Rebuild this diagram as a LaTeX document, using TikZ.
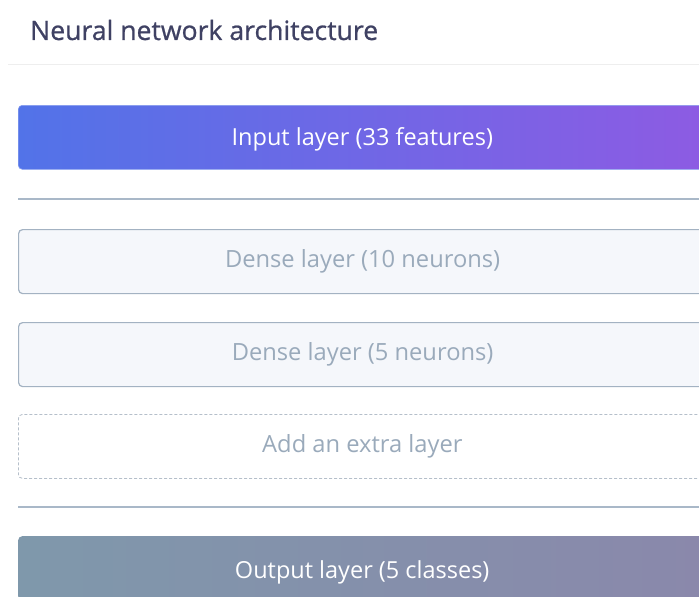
\documentclass[tikz,border=0pt]{standalone}
\usepackage{fontspec}
\setmainfont{Open Sans}
\newfontfamily\headfont[FakeBold=0.8]{Open Sans}
\usetikzlibrary{calc}
\definecolor{titlecol}{HTML}{3F4163}
\definecolor{rulecol}{HTML}{EEEEEE}
\definecolor{sepcol}{HTML}{A9B8C8}
\definecolor{inleft}{HTML}{5273E8}
\definecolor{inright}{HTML}{8D5BE3}
\definecolor{outleft}{HTML}{7F98AB}
\definecolor{outright}{HTML}{8A88AB}
\definecolor{densefill}{HTML}{F5F7FB}
\definecolor{denseedge}{HTML}{A3B2C2}
\definecolor{densetext}{HTML}{9AAABB}
\definecolor{dashedge}{HTML}{B5BFCA}
\tikzset{
  layerbox/.style={rounded corners=4pt, minimum width=688pt, minimum height=64pt, inner sep=0pt, anchor=north west},
  inputbox/.style={layerbox, left color=inleft, right color=inright, draw=inleft!70!white, line width=0.6pt},
  densebox/.style={layerbox, fill=densefill, draw=denseedge, line width=1.2pt},
  extrabox/.style={layerbox, fill=white, draw=dashedge, line width=0.8pt, dash pattern=on 3pt off 2pt},
  outputbox/.style={layerbox, left color=outleft, right color=outright},
  lightlabel/.style={font=\fontsize{23.5}{26}\selectfont, text=white},
  denselabel/.style={font=\fontsize{23.7}{26}\selectfont, text=densetext},
  separator/.style={draw=sepcol, line width=1.6pt}
}
\begin{document}
\begin{tikzpicture}[x=1pt, y=-1pt]
\useasboundingbox (0,0) rectangle (699,597);
\clip (0,0) rectangle (699,597);
% heading
\node[anchor=west, text=titlecol, font=\headfont\fontsize{26.6}{28}\selectfont, inner sep=0pt] (title) at (30,30) {Neural network architecture};
\coordinate (ruleL) at (8,64);
\coordinate (ruleR) at (699,64);
\draw[rulecol, line width=1pt] (ruleL) -- (ruleR);
% layer stack
\node[inputbox] (input) at (18,105) {};
\node[lightlabel] at ($(input.center)+(0,2)$) {Input layer (33 features)};
\coordinate (sep1L) at (18,199);
\coordinate (sep1R) at (699,199);
\draw[separator] (sep1L) -- (sep1R);
\node[densebox] (dense1) at (18,229) {};
\node[denselabel] at (dense1.center) {Dense layer (10 neurons)};
\node[densebox] (dense2) at (18,322) {};
\node[denselabel] at (dense2.center) {Dense layer (5 neurons)};
\node[extrabox] (extra) at (18,414) {};
\node[denselabel] at (extra.center) {Add an extra layer};
\coordinate (sep2L) at (18,507);
\coordinate (sep2R) at (699,507);
\draw[separator] (sep2L) -- (sep2R);
\node[outputbox] (output) at (18,536) {};
\node[lightlabel] at ($(output.center)+(0,4)$) {Output layer (5 classes)};
\end{tikzpicture}
\end{document}
